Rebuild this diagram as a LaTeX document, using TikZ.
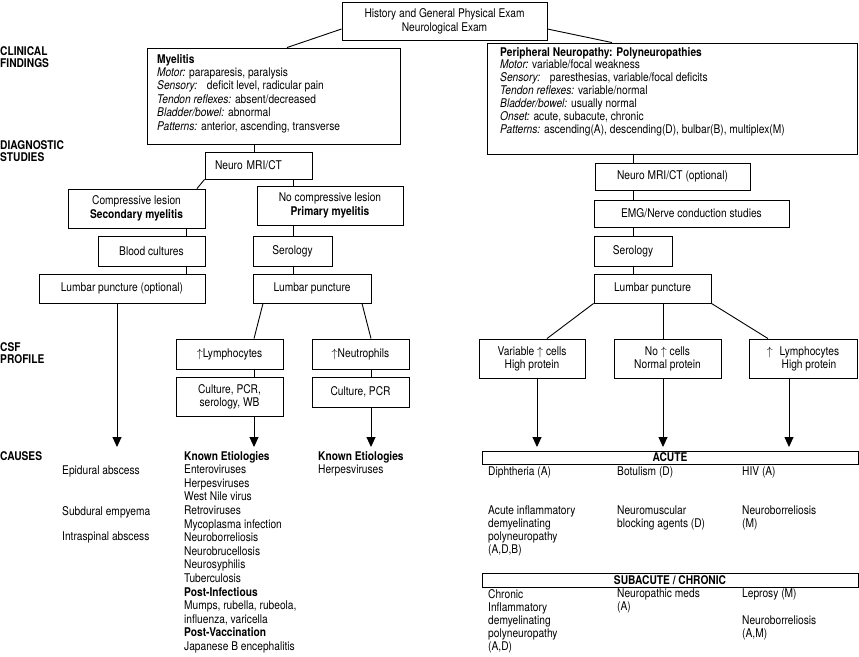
\documentclass[tikz,border=0pt]{standalone}
\usepackage{fontspec}
\setmainfont{TeX Gyre Heros}[FakeStretch=0.85]
\usetikzlibrary{arrows.meta}
\newcommand{\upar}{$\uparrow$}
\begin{document}
\begin{tikzpicture}[x=1pt,y=-1pt,
  font=\fontsize{12}{13.4}\selectfont,
  box/.style={draw, line width=0.9pt, inner sep=0pt, align=center},
  conn/.style={line width=0.9pt},
  arr/.style={line width=0.9pt, -{Triangle[width=9pt,length=10pt]}},
  lbl/.style={font=\fontsize{12}{12.5}\selectfont\bfseries, align=left, anchor=north west, inner sep=0pt},
  txt/.style={align=left, anchor=north west, inner sep=0pt},
  bar/.style={draw, line width=0.9pt, inner sep=0pt, minimum width=376pt, font=\fontsize{12}{13}\selectfont\bfseries}
]
\useasboundingbox (0,0) rectangle (859,656);

% labels
\node[lbl] (l1) at (0,46) {CLINICAL\\FINDINGS};
\node[lbl] (l2) at (0,140) {DIAGNOSTIC\\STUDIES};
\node[lbl] (l3) at (0,342) {CSF\\PROFILE};
\node[lbl] (l4) at (0,451) {CAUSES};

% top
\node[box, minimum width=205pt, minimum height=38pt, font=\fontsize{12}{14}\selectfont] (top) at (444.5,21) {History and General Physical Exam\\Neurological Exam};

% myelitis
\node[box, minimum width=253pt, minimum height=96pt] (myel) at (273.5,96) {};
\node[txt] (myeltxt) at (157,54) {\textbf{Myelitis}\\
\textit{Motor:} paraparesis, paralysis\\
\textit{Sensory:}\hspace{6pt} deficit level, radicular pain\\
\textit{Tendon reflexes:} absent/decreased\\
\textit{Bladder/bowel:} abnormal\\
\textit{Patterns:} anterior, ascending, transverse};

% peripheral neuropathy
\node[box, minimum width=370pt, minimum height=111pt] (pn) at (672,98.5) {};
\node[txt, font=\fontsize{12}{12.85}\selectfont] (pntxt) at (500,47) {\textbf{Peripheral Neuropathy: Polyneuropathies}\\
\textit{Motor:} variable/focal weakness\\
\textit{Sensory:}\hspace{6pt} paresthesias, variable/focal deficits\\
\textit{Tendon reflexes:} variable/normal\\
\textit{Bladder/bowel:} usually normal\\
\textit{Onset:} acute, subacute, chronic\\
\textit{Patterns:} ascending(A), descending(D), bulbar(B), multiplex(M)};

% left branch
\node[box, minimum width=107pt, minimum height=27pt, text width=87pt, align=left] (mri) at (258.5,165.5) {Neuro MRI/CT};
\node[box, minimum width=137pt, minimum height=39pt, font=\fontsize{12}{14}\selectfont] (comp) at (136.5,208.5) {Compressive lesion\\\textbf{Secondary myelitis}};
\node[box, minimum width=146pt, minimum height=39pt, font=\fontsize{12}{14}\selectfont] (nocomp) at (330,205.5) {No compressive lesion\\\textbf{Primary myelitis}};
\node[box, minimum width=107pt, minimum height=30pt] (blood) at (151.5,251) {Blood cultures};
\node[box, minimum width=79pt, minimum height=30pt] (serl) at (292.5,251) {Serology};
\node[box, minimum width=166pt, minimum height=29pt] (lpopt) at (122,288.5) {Lumbar puncture (optional)};
\node[box, minimum width=118pt, minimum height=29pt] (lpmid) at (312,288.5) {Lumbar puncture};
\node[box, minimum width=107pt, minimum height=30pt] (lym) at (229.5,354) {\upar Lymphocytes};
\node[box, minimum width=97pt, minimum height=30pt] (neu) at (360.5,354) {\upar Neutrophils};
\node[box, minimum width=107pt, minimum height=39pt, font=\fontsize{12}{13}\selectfont] (cul1) at (229.5,396.5) {Culture, PCR,\\serology, WB};
\node[box, minimum width=97pt, minimum height=30pt] (cul2) at (360.5,392) {Culture, PCR};

% right branch
\node[box, minimum width=155pt, minimum height=27pt] (mri2) at (672.5,176.5) {Neuro MRI/CT (optional)};
\node[box, minimum width=195pt, minimum height=27pt] (emg) at (691.5,213.5) {EMG/Nerve conduction studies};
\node[box, minimum width=78pt, minimum height=30pt] (ser2) at (633,251) {Serology};
\node[box, minimum width=117pt, minimum height=29pt] (lp2) at (652.5,288.5) {Lumbar puncture};
\node[box, minimum width=106pt, minimum height=39pt, font=\fontsize{12}{13}\selectfont] (var) at (532,358.5) {Variable \upar{} cells\\High protein};
\node[box, minimum width=107pt, minimum height=39pt, font=\fontsize{12}{13}\selectfont] (nocell) at (667.5,358.5) {No \upar{} cells\\Normal protein};
\node[box, minimum width=108pt, minimum height=39pt, font=\fontsize{12}{13}\selectfont] (lym2) at (803,358.5) {\upar{}\hspace{4pt} Lymphocytes\\\hspace{12pt}High protein};

% bars
\node[bar, minimum height=13pt] (acute) at (670,457.5) {ACUTE};
\node[bar, minimum height=14pt] (sub) at (670,580) {SUBACUTE / CHRONIC};

% arrow ends
\coordinate (e1) at (117,447);
\coordinate (e2) at (254,447);
\coordinate (e3) at (371,447);
\coordinate (e4) at (537,447);
\coordinate (e5) at (663,447);
\coordinate (e6) at (789,447);

% connectors
\draw[conn] (top.west |- 0,29) -- (myel.north -| 287,0);
\draw[conn] (top.east |- 0,29) -- (pn.north -| 612,0);
\draw[conn] (myel.south -| 254,0) -- (mri.north -| 254,0);
\draw[conn] (mri.south west) -- (comp.north -| 197,0);
\draw[conn] (mri.south -| 293,0) -- (nocomp.north -| 293,0);
\draw[conn] (comp.south -| 186,0) -- (blood.north -| 186,0);
\draw[conn] (blood.south -| 186,0) -- (lpopt.north -| 186,0);
\draw[conn] (nocomp.south -| 293,0) -- (serl.north -| 293,0);
\draw[conn] (serl.south -| 293,0) -- (lpmid.north -| 293,0);
\draw[conn] (lpmid.south -| 263,0) -- (lym.north -| 254,0);
\draw[conn] (lpmid.south -| 362,0) -- (neu.north -| 371,0);
\draw[conn] (lym.south -| 254,0) -- (cul1.north -| 254,0);
\draw[conn] (neu.south -| 371,0) -- (cul2.north -| 371,0);
\draw[arr] (lpopt.south -| 117,0) -- (e1);
\draw[arr] (cul1.south -| 254,0) -- (e2);
\draw[arr] (cul2.south -| 371,0) -- (e3);

\draw[conn] (pn.south -| 633,0) -- (mri2.north -| 633,0);
\draw[conn] (mri2.south -| 633,0) -- (emg.north -| 633,0);
\draw[conn] (emg.south -| 633,0) -- (ser2.north -| 633,0);
\draw[conn] (ser2.south -| 633,0) -- (lp2.north -| 633,0);
\draw[conn] (lp2.south west) -- (var.north -| 547,0);
\draw[conn] (lp2.south -| 663,0) -- (nocell.north -| 663,0);
\draw[conn] (lp2.south east) -- (lym2.north -| 768,0);
\draw[arr] (var.south -| 537,0) -- (e4);
\draw[arr] (nocell.south -| 663,0) -- (e5);
\draw[arr] (lym2.south -| 789,0) -- (e6);

% causes left
\node[txt] (c1) at (62,466) {Epidural abscess};
\node[txt] (c2) at (62,506) {Subdural empyema};
\node[txt] (c3) at (62,532) {Intraspinal abscess};
\node[txt, font=\fontsize{12}{13.6}\selectfont] (c4) at (184,451) {\textbf{Known Etiologies}\\
Enteroviruses\\
Herpesviruses\\
West Nile virus\\
Retroviruses\\
Mycoplasma infection\\
Neuroborreliosis\\
Neurobrucellosis\\
Neurosyphilis\\
Tuberculosis\\
\textbf{Post-Infectious}\\
Mumps, rubella, rubeola,\\
influenza, varicella\\
\textbf{Post-Vaccination}\\
Japanese B encephalitis};
\node[txt, font=\fontsize{12}{13.6}\selectfont] (c5) at (318,451) {\textbf{Known Etiologies}\\Herpesviruses};

% causes right
\node[txt] (r1) at (488,467) {Diphtheria (A)};
\node[txt] (r2) at (617,467) {Botulism (D)};
\node[txt] (r3) at (742,467) {HIV (A)};
\node[txt, font=\fontsize{12}{13}\selectfont] (r4) at (488,506) {Acute inflammatory\\demyelinating\\polyneuropathy\\(A,D,B)};
\node[txt, font=\fontsize{12}{13}\selectfont] (r5) at (617,506) {Neuromuscular\\blocking agents (D)};
\node[txt, font=\fontsize{12}{13}\selectfont] (r6) at (742,506) {Neuroborreliosis\\(M)};
\node[txt, font=\fontsize{12}{13}\selectfont] (r7) at (488,589) {Chronic\\Inflammatory\\demyelinating\\polyneuropathy\\(A,D)};
\node[txt, font=\fontsize{12}{13}\selectfont] (r8) at (617,589) {Neuropathic meds\\(A)};
\node[txt] (r9) at (742,589) {Leprosy (M)};
\node[txt, font=\fontsize{12}{13}\selectfont] (r10) at (742,616) {Neuroborreliosis\\(A,M)};
\end{tikzpicture}
\end{document}
